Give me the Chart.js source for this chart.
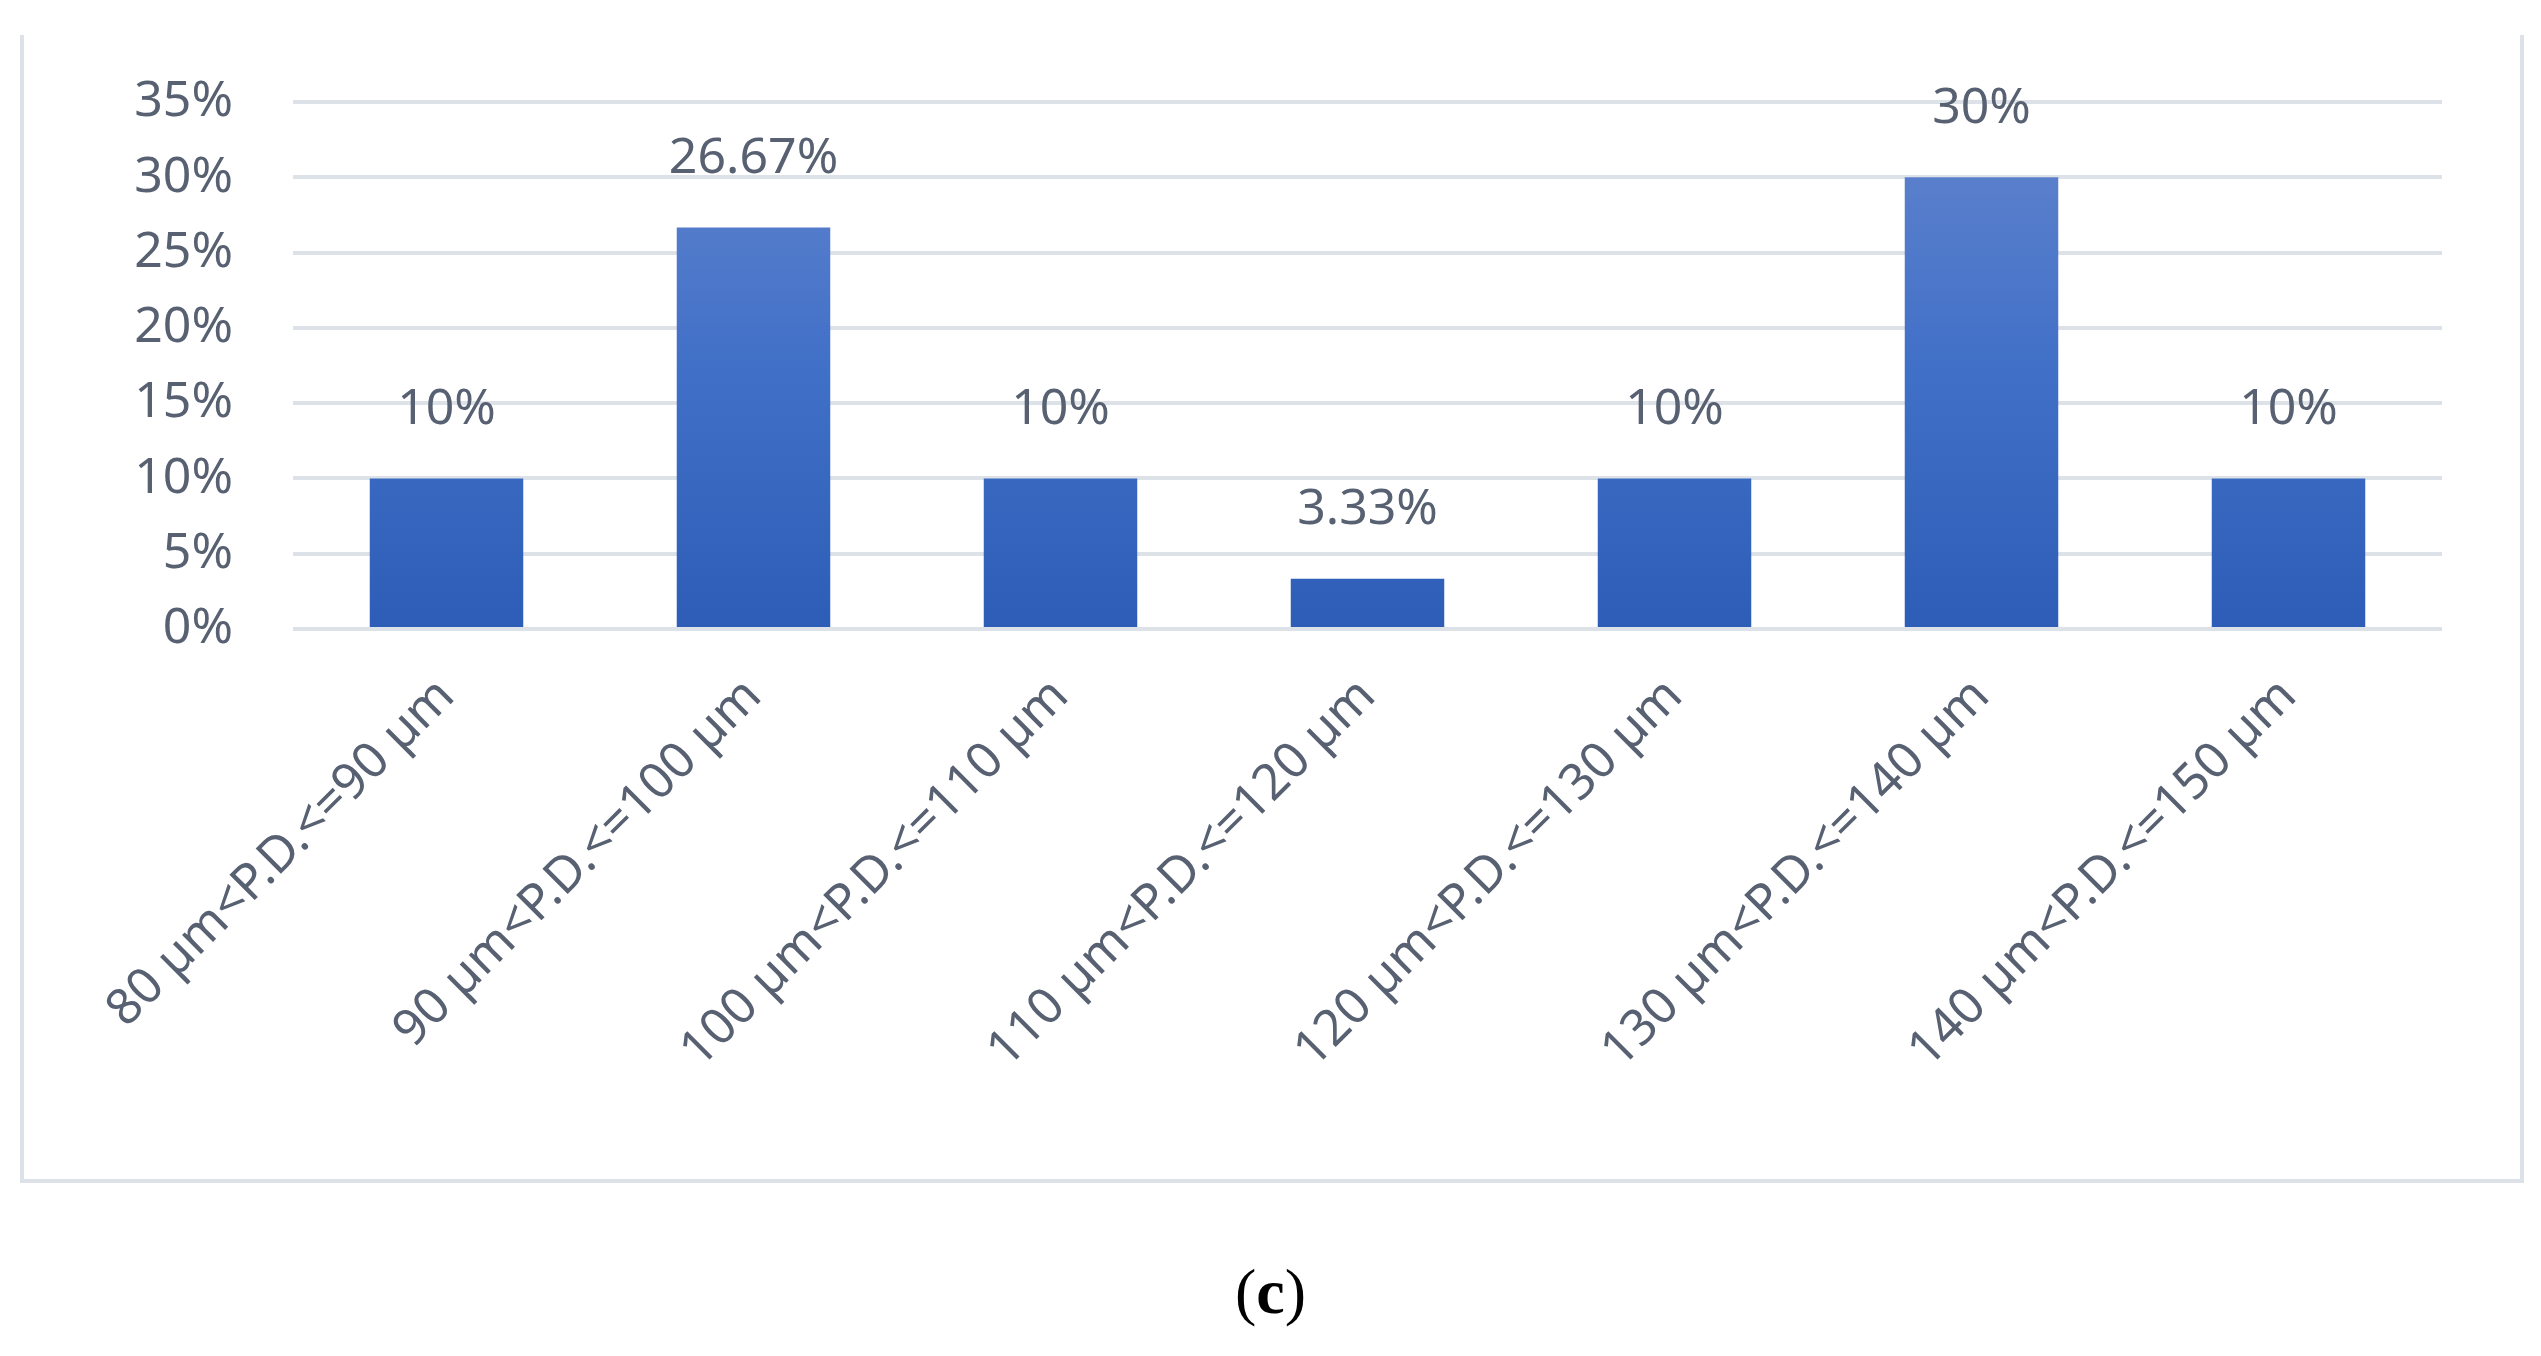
<!DOCTYPE html>
<html>
<head>
<meta charset="utf-8">
<script src="https://cdn.jsdelivr.net/npm/chart.js@4"></script>
<style>
  html, body { margin: 0; padding: 0; background: #fff; }
  #frame {
    position: absolute; left: 20px; top: 35px; width: 2496px; height: 1144px;
    border-left: 4px solid #dde1e8; border-bottom: 4px solid #dde1e8; border-right: 4px solid #dde1e8;
  }
  #wrap { position: absolute; left: 0; top: 0; width: 2541px; height: 1181px; }
  #caption {
    position: absolute; left: 0; width: 2541px; top: 1255px; text-align: center;
    font-family: "Liberation Serif", serif; font-size: 64px; color: #000;
  }
</style>
</head>
<body>
<div id="frame"></div>
<div id="wrap"><canvas id="c"></canvas></div>
<div id="caption">(<b>c</b>)</div>
<script>
const categories = [
  "80 µm<P.D.<=90 µm",
  "90 µm<P.D.<=100 µm",
  "100 µm<P.D.<=110 µm",
  "110 µm<P.D.<=120 µm",
  "120 µm<P.D.<=130 µm",
  "130 µm<P.D.<=140 µm",
  "140 µm<P.D.<=150 µm"
];
const shares = [10, 26.67, 10, 3.33, 10, 30, 10];
const shareLabels = ["10%", "26.67%", "10%", "3.33%", "10%", "30%", "10%"];

const textColor = "#586172";
const fontFamily = "'Noto Sans', 'Open Sans', sans-serif";

/* labels above each bar */
const valueLabels = {
  id: "valueLabels",
  afterDatasetsDraw(chart) {
    const ctx = chart.ctx;
    const meta = chart.getDatasetMeta(0);
    ctx.save();
    ctx.fillStyle = textColor;
    ctx.font = "50px " + fontFamily;
    ctx.textAlign = "center";
    ctx.textBaseline = "bottom";
    meta.data.forEach((bar, i) => {
      ctx.fillText(shareLabels[i], bar.x, bar.y - 44);
    });
    ctx.restore();
  }
};

function barGradient(context) {
  const chart = context.chart;
  const area = chart.chartArea;
  if (!area) return "#4472c4";
  const el = context.element;
  const top = el && el.y != null ? el.y : area.top;
  const g = chart.ctx.createLinearGradient(0, top, 0, area.bottom);
  g.addColorStop(0, "#6385cd");
  g.addColorStop(0.5, "#4170c8");
  g.addColorStop(1, "#2d5db6");
  return g;
}

new Chart(document.getElementById("c"), {
  type: "bar",
  data: {
    labels: categories,
    datasets: [{
      data: shares,
      backgroundColor: barGradient,
      borderWidth: 0,
      categoryPercentage: 1,
      barPercentage: 0.5
    }]
  },
  options: {
    responsive: true,
    maintainAspectRatio: false,
    animation: false,
    layout: { padding: { top: 102, right: 99, left: 0, bottom: 0 } },
    plugins: { legend: { display: false }, tooltip: { enabled: false } },
    scales: {
      x: {
        grid: { display: false },
        border: { display: false },
        afterFit(scale) { scale.height = 552; },
        ticks: {
          color: textColor,
          font: { size: 50, family: fontFamily },
          minRotation: 45,
          maxRotation: 45,
          padding: 30,
          autoSkip: false
        }
      },
      y: {
        min: 0,
        max: 35,
        afterFit(scale) { scale.width = 293; },
        grid: { color: "#dde1e8", lineWidth: 4, drawTicks: false },
        border: { display: false },
        ticks: {
          stepSize: 5,
          color: textColor,
          padding: 60,
          font: { size: 50, family: fontFamily },
          callback: v => v + "%"
        }
      }
    }
  },
  plugins: [valueLabels]
});
</script>
</body>
</html>
